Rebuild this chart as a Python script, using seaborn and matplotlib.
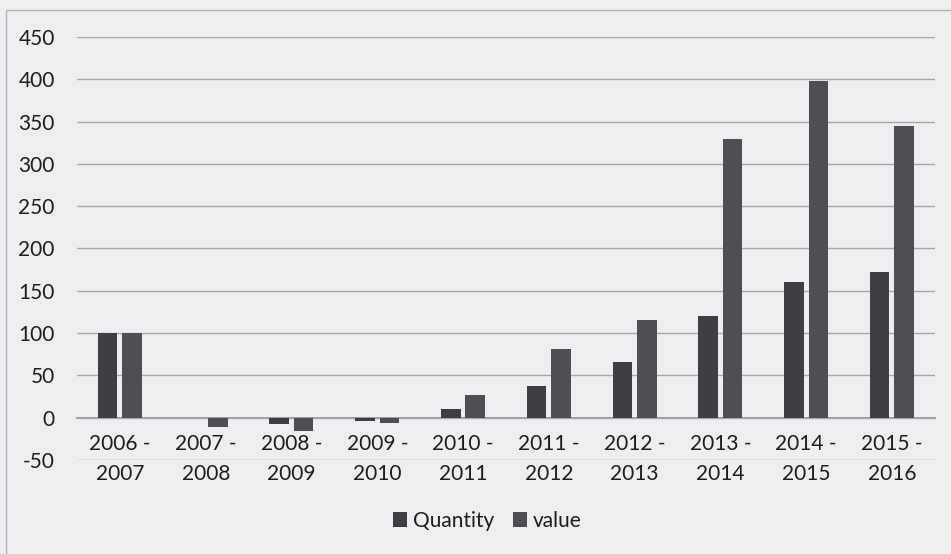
import matplotlib
matplotlib.use("Agg")
import matplotlib.pyplot as plt
from matplotlib.patches import Rectangle
import seaborn as sns
import pandas as pd

# Year-on-year figures per financial year
years = ["2006 -\n2007", "2007 -\n2008", "2008 -\n2009", "2009 -\n2010", "2010 -\n2011",
         "2011 -\n2012", "2012 -\n2013", "2013 -\n2014", "2014 -\n2015", "2015 -\n2016"]
quantity = [100, 0, -7, -4, 10, 37, 66, 120, 160, 172]
value = [100, -11, -16, -6, 27, 81, 116, 330, 398, 345]
series_names = ["Quantity", "value"]
y_ticks = [-50, 0, 50, 100, 150, 200, 250, 300, 350, 400, 450]

df = pd.DataFrame({
    "year": years * 2,
    "amount": quantity + value,
    "series": [series_names[0]] * len(years) + [series_names[1]] * len(years),
})

bg = "#efedf0"
sns.set_theme(style="white")
plt.rcParams["font.family"] = ["Lato", "DejaVu Sans"]
plt.rcParams["axes.unicode_minus"] = False

fig = plt.figure(figsize=(9.51, 5.54), dpi=100, facecolor=bg)
ax = fig.add_axes([0.081, 0.1697, 0.902, 0.7635])
ax.set_facecolor(bg)

sns.barplot(data=df, x="year", y="amount", hue="series", order=years,
            hue_order=series_names, palette=["#3f3e42", "#4f4e52"],
            width=0.57, gap=0.2, saturation=1, linewidth=0, ax=ax, legend=True)

ax.set_ylim(-50, 450)
ax.set_yticks(y_ticks)
ax.set_xlim(-0.5, len(years) - 0.5)
ax.yaxis.grid(True, color="#a9a7ab", linewidth=1.0)
ax.set_axisbelow(True)
ax.set_xlabel("")
ax.set_ylabel("")

for side in ["top", "right", "left"]:
    ax.spines[side].set_visible(False)
ax.spines["bottom"].set_position(("data", 0))
ax.spines["bottom"].set_color("#8d8b8f")
ax.spines["bottom"].set_linewidth(1.2)
ax.spines["bottom"].set_zorder(0.5)

txt = "#1e1d20"
ax.tick_params(axis="x", length=0, pad=12, labelsize=15, labelcolor=txt)
ax.tick_params(axis="y", length=0, pad=16, labelsize=15, labelcolor=txt)
for lbl in ax.get_xticklabels():
    lbl.set_linespacing(1.6)

leg = ax.legend(loc="center", bbox_to_anchor=(0.512, 0.06), bbox_transform=fig.transFigure,
                ncol=2, frameon=False, fontsize=15, handlelength=0.7, handleheight=0.7,
                handletextpad=0.25, columnspacing=0.9, labelcolor=txt)

# light frame around the chart area
fig.add_artist(Rectangle((6 / 951, -0.2), 1.2, 1.2 - 10 / 554, transform=fig.transFigure,
                         fill=False, edgecolor="#b5b3b7", linewidth=1.0))

fig.savefig("out.png", dpi=100, facecolor=bg)
